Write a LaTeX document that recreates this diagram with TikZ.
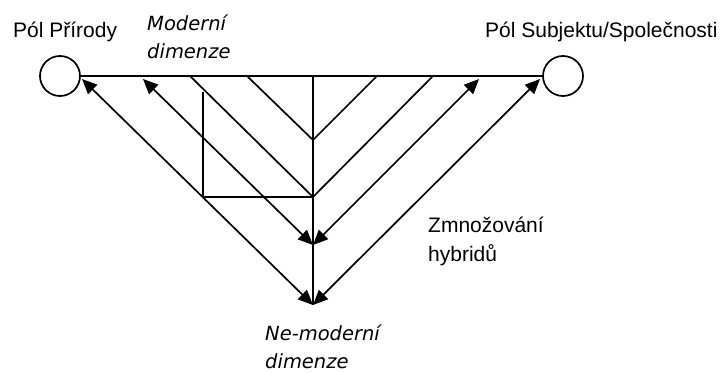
\documentclass[tikz,border=0pt]{standalone}
\usepackage{fontspec}
\setmainfont{Liberation Sans}
\newfontfamily\itfam{DejaVu Sans}
\usetikzlibrary{arrows.meta}
\begin{document}
\begin{tikzpicture}[x=1pt,y=-1pt,
  ln/.style={line width=1.7pt,black},
  arr/.style={ln,{Triangle[length=15pt,width=13pt]}-{Triangle[length=15pt,width=13pt]}},
  pole/.style={circle,draw,line width=1.7pt,minimum size=40pt,inner sep=0pt},
  lbl/.style={inner sep=0pt,font=\fontsize{21}{29}\selectfont,align=left},
  itl/.style={inner sep=0pt,font=\itfam\itshape\fontsize{19.5}{28}\selectfont,align=left}]
\useasboundingbox (0,0) rectangle (721,374);
% poles
\node[pole] (L) at (60,76) {};
\node[pole] (R) at (563,76) {};
% coordinates
\coordinate (t1) at (190,76);
\coordinate (t2) at (247,76);
\coordinate (t3) at (377,76);
\coordinate (t4) at (433,76);
\coordinate (tc) at (313,76);
\coordinate (V1) at (313,140);
\coordinate (V2) at (313,197);
\coordinate (B1) at (313,245);
\coordinate (B2) at (313,305);
\coordinate (k1) at (203,92);
\coordinate (k2) at (203,197);
\coordinate (a1) at (82,79);
\coordinate (a2) at (143,79);
\coordinate (a3) at (479,79);
\coordinate (a4) at (540,79);
% top line
\draw[ln] (L.east) -- (R.west);
% central structure
\draw[ln] (tc) -- (B2);
\draw[ln] (t2) -- (V1) -- (t3);
\draw[ln] (t1) -- (V2) -- (t4);
\draw[ln] (k1) -- (k2) -- (V2);
% arrows
\draw[arr] (B2) -- (a1);
\draw[arr] (B1) -- (a2);
\draw[arr] (B1) -- (a3);
\draw[arr] (B2) -- (a4);
% labels
\node[lbl,anchor=base west] (pp) at (13,38) {Pól Přírody};
\node[lbl,anchor=base west] (ps) at (485,38) {Pól Subjektu/Společnosti};
\node[itl,anchor=north west] (md) at (147,15) {Moderní\\dimenze};
\node[lbl,anchor=north west] (zh) at (428,217) {Zmnožování\\hybridů};
\node[itl,anchor=north west] (nd) at (265,325) {Ne-moderní\\dimenze};
\end{tikzpicture}
\end{document}
